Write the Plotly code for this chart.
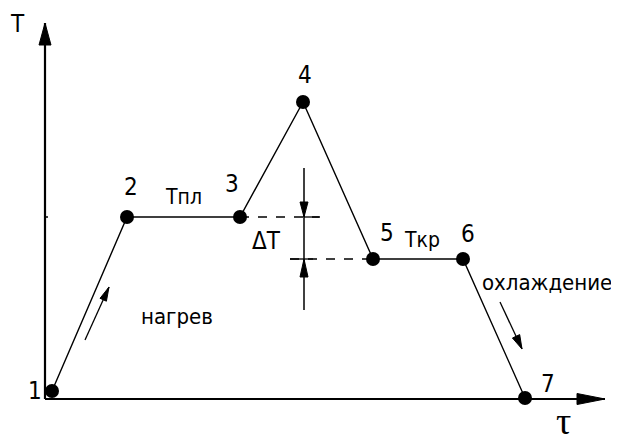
import math
import plotly.graph_objects as go

# ---- data (tau = time, T = temperature, arbitrary units) ----
point_labels = ["1", "2", "3", "4", "5", "6", "7"]
tau = [0.7, 8.2, 19.5, 25.8, 32.8, 41.8, 48.0]
temp = [0.8, 18.2, 18.2, 29.7, 14.0, 14.0, 0.1]
T_pl = 18.2   # melting temperature
T_kr = 14.0   # crystallisation temperature

# label offsets (px) of point numbers
label_dx = [-17, 4, -8, 2, 14, 5, 23]
label_dy = [0, 30, 33, 27, 26, 25, 14]

FONT = "Liberation Sans Narrow, DejaVu Sans Condensed, DejaVu Sans, sans-serif"
PX = 0.1  # data units per pixel (same on both axes)

fig = go.Figure()

# main curve
fig.add_trace(go.Scatter(
    x=tau, y=temp, mode="lines+markers",
    line=dict(color="black", width=1.4),
    marker=dict(color="black", size=14),
    hoverinfo="skip", showlegend=False,
))

shapes = []
annotations = []


def seg(x0, y0, x1, y1, width=1.5, dash="solid"):
    shapes.append(dict(type="line", xref="x", yref="y", x0=x0, y0=y0, x1=x1, y1=y1,
                       line=dict(color="black", width=width, dash=dash)))


def head(tail, tip, L, W):
    dx, dy = tip[0] - tail[0], tip[1] - tail[1]
    n = math.hypot(dx, dy)
    ux, uy = dx / n, dy / n
    bx, by = tip[0] - ux * L * PX, tip[1] - uy * L * PX
    px_, py_ = -uy * W * PX / 2, ux * W * PX / 2
    path = (f"M {tip[0]} {tip[1]} L {bx + px_} {by + py_} "
            f"L {bx - px_} {by - py_} Z")
    shapes.append(dict(type="path", xref="x", yref="y", path=path,
                       fillcolor="black", line=dict(color="black", width=1)))


def arrow(tail, tip, L, W, width=1.5):
    seg(tail[0], tail[1], tip[0], tip[1], width)
    head(tail, tip, L, W)


# axes with arrows
x_end = 56.0
y_end = 37.6
arrow((0, 0), (x_end, 0), 28, 11, width=2.2)
arrow((0, 0), (0, y_end), 22, 12, width=2.2)
seg(0, T_pl, 0.3, T_pl, width=1.5)

# heating / cooling arrows
arrow((4.0, 5.9), (6.4, 11.2), 14, 7, width=1.3)
arrow((45.5, 9.7), (47.7, 5.0), 14, 8, width=1.3)

# delta T construction
xv = 25.9
seg(xv, 8.9, xv, 23.1, width=1.5)
head((xv, 23.1), (xv, T_pl), 15, 8)
head((xv, 8.9), (xv, T_kr), 18, 8)
seg(tau[2], T_pl, 27.5, T_pl, width=1.3, dash="dash")
seg(xv, T_pl, 27.4, T_pl, width=1.3)
seg(24.5, T_kr, tau[4], T_kr, width=1.3, dash="dash")
seg(24.5, T_kr, 26.8, T_kr, width=1.3)

# point numbers
for lab, x, y, dx, dy in zip(point_labels, tau, temp, label_dx, label_dy):
    annotations.append(dict(x=x, y=y, text=lab, showarrow=False, xshift=dx, yshift=dy,
                            font=dict(family=FONT, size=24, color="black")))

texts = [
    ("Тпл", 13.8, 20.2, 21),
    ("Ткр", 37.7, 15.9, 21),
    ("ΔT", 22.1, 15.8, 24),
    ("охлаждение", 50.2, 11.7, 22),
    ("нагрев", 13.2, 8.3, 22),
    ("T", -2.8, 37.5, 24),
]
for t, x, y, s in texts:
    annotations.append(dict(x=x, y=y, text=t, showarrow=False,
                            font=dict(family=FONT, size=s, color="black")))

# time-axis label, anchored to the bottom edge of the figure
annotations.append(dict(x=51.8, xref="x", y=0, yref="paper", yanchor="bottom",
                        text="τ", showarrow=False,
                        font=dict(family="Liberation Serif, DejaVu Serif, serif", size=38, color="black")))

# the page body has an 8 px margin, so the figure is 8 px smaller and the ranges
# are chosen so the drawing lands where the reference has it
fig.update_layout(
    width=611, height=436,
    margin=dict(l=0, r=0, t=0, b=0),
    paper_bgcolor="white", plot_bgcolor="white",
    xaxis=dict(range=[-3.7, 57.4], visible=False, showgrid=False, zeroline=False),
    yaxis=dict(range=[-4.5, 39.1], visible=False, showgrid=False, zeroline=False),
    shapes=shapes, annotations=annotations,
    showlegend=False,
)

fig.write_html("out.html")
